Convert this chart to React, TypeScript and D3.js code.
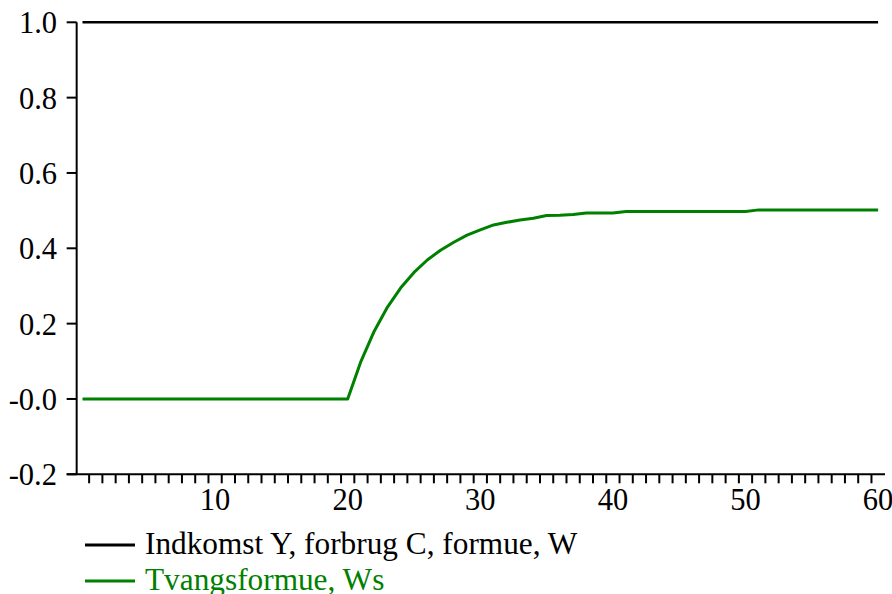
import React from "react";
import * as d3 from "d3";

// Periods 0..60
const periods: number[] = d3.range(0, 61);

// Income Y, consumption C, wealth W (normalised), periods 0..60
const incomeValues: number[] = [
  1,
  1, 1, 1, 1, 1, 1, 1, 1, 1, 1,
  1, 1, 1, 1, 1, 1, 1, 1, 1, 1,
  1, 1, 1, 1, 1, 1, 1, 1, 1, 1,
  1, 1, 1, 1, 1, 1, 1, 1, 1, 1,
  1, 1, 1, 1, 1, 1, 1, 1, 1, 1,
  1, 1, 1, 1, 1, 1, 1, 1, 1, 1,
];

// Forced savings Ws, periods 0..60
const forcedWealthValues: number[] = [
  0,
  0, 0, 0, 0, 0, 0, 0, 0, 0, 0,
  0, 0, 0, 0, 0, 0, 0, 0, 0, 0,
  0.1, 0.18, 0.244, 0.295, 0.336, 0.369, 0.395, 0.416, 0.435, 0.449,
  0.462, 0.469, 0.475, 0.48, 0.487, 0.488, 0.49, 0.494, 0.494, 0.494,
  0.498, 0.498, 0.498, 0.498, 0.498, 0.498, 0.498, 0.498, 0.498, 0.498,
  0.502, 0.502, 0.502, 0.502, 0.502, 0.502, 0.502, 0.502, 0.502, 0.502,
];

const yTickValues: number[] = [-0.2, 0, 0.2, 0.4, 0.6, 0.8, 1.0];
const yTickLabels: string[] = ["-0.2", "-0.0", "0.2", "0.4", "0.6", "0.8", "1.0"];
const xLabelValues: number[] = [10, 20, 30, 40, 50, 60];
const xMinorTicks: number[] = d3.range(0.5, 60, 1);

const seriesNames: string[] = ["Indkomst Y, forbrug C, formue, W", "Tvangsformue, Ws"];
const seriesColors: string[] = ["#000000", "#008000"];

export default function App() {
  const width = 892;
  const height = 594;
  const font = "'Liberation Serif', 'Times New Roman', serif";

  const x = d3.scaleLinear().domain([0, 60]).range([82.5, 878.1]);
  const y = d3.scaleLinear().domain([-0.2, 1.0]).range([474.3, 22.3]);

  const axisX = x(-0.44);
  const axisY = y(-0.2);

  const line = d3
    .line<number>()
    .x((_, i) => x(periods[i]))
    .y((d) => y(d));

  const series = [incomeValues, forcedWealthValues];

  return (
    <svg
      width={width}
      height={height}
      style={{ position: "absolute", left: 0, top: 0, background: "#fff" }}
    >
      <rect x={0} y={0} width={width} height={height} fill="#fff" />

      {/* data lines */}
      {series.map((vals, i) => (
        <path
          key={i}
          d={line(vals) || ""}
          fill="none"
          stroke={seriesColors[i]}
          strokeWidth={i === 0 ? 2.6 : 3}
          strokeLinejoin="round"
        />
      ))}

      {/* y axis */}
      <line x1={axisX} x2={axisX} y1={y(1.0)} y2={axisY} stroke="#000" strokeWidth={2} />
      {yTickValues.map((v, i) => (
        <g key={v}>
          <line x1={axisX - 10} x2={axisX} y1={y(v)} y2={y(v)} stroke="#000" strokeWidth={2} />
          <text
            x={57}
            y={y(v) + 11}
            textAnchor="end"
            fontFamily={font}
            fontSize={30.5}
            fill="#000"
          >
            {yTickLabels[i]}
          </text>
        </g>
      ))}

      {/* x axis */}
      <line x1={axisX - 10} x2={885} y1={axisY} y2={axisY} stroke="#000" strokeWidth={2} />
      {xMinorTicks.map((v) => (
        <line key={v} x1={x(v)} x2={x(v)} y1={axisY} y2={axisY + 9} stroke="#000" strokeWidth={2} />
      ))}
      {xLabelValues.map((v) => (
        <text
          key={v}
          x={x(v)}
          y={510}
          textAnchor="middle"
          fontFamily={font}
          fontSize={30.5}
          fill="#000"
        >
          {v}
        </text>
      ))}

      {/* legend */}
      {seriesNames.map((name, i) => (
        <g key={name}>
          <line
            x1={85}
            x2={135}
            y1={545 + i * 36}
            y2={545 + i * 36}
            stroke={seriesColors[i]}
            strokeWidth={3}
          />
          <text
            x={145}
            y={554 + i * 36}
            fontFamily={font}
            fontSize={31.3}
            fill={seriesColors[i]}
          >
            {name}
          </text>
        </g>
      ))}
    </svg>
  );
}
